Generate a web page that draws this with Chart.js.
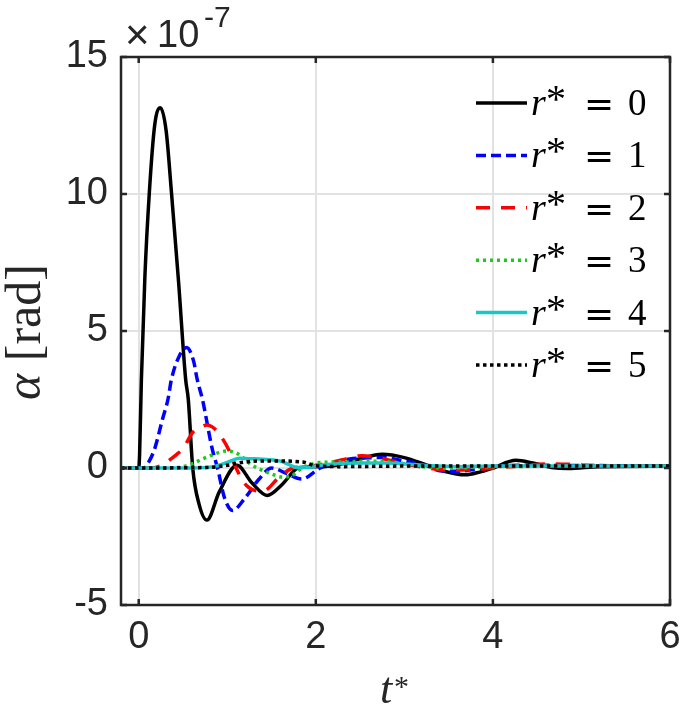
<!DOCTYPE html>
<html>
<head>
<meta charset="utf-8">
<script src="https://cdn.jsdelivr.net/npm/chart.js@4/dist/chart.umd.min.js"></script>
<style>
  html, body { margin: 0; padding: 0; background: #fff; }
  canvas { display: block; }
</style>
</head>
<body>
<canvas id="alphaChart" width="685" height="707"></canvas>
<script>
// values are in units of 1e-7 rad (axis multiplier shown at top left)
let labels = ['0', '1', '2', '3', '4', '5'];
let colors = ['#000000', '#0000ff', '#ff0000', '#1ec81e', '#1cc6c6', '#000000'];
let dashes = [[], [10, 5], [14, 11], [3, 4], [], [3.5, 3.5]];

let t0 = [-0.2, 0, 0.01, 0.03, 0.07, 0.12, 0.18, 0.245, 0.31, 0.37, 0.45, 0.53, 0.56, 0.61, 0.68, 0.77, 0.91, 1.11, 1.28, 1.45, 1.62, 1.8, 2.0, 2.2, 2.49, 2.75, 3.0, 3.24, 3.45, 3.69, 3.85, 4.0, 4.26, 4.45, 4.66, 4.85, 5.2, 6];
let a0 = [0, 0, 0.5, 3.2, 7.0, 10.05, 12.5, 13.15, 12.3, 10.05, 6.8, 3.24, 2.5, 0, -1.3, -1.9, -0.87, 0.1, -0.55, -1.0, -0.6, 0, 0.05, 0.08, 0.33, 0.5, 0.38, 0.12, -0.12, -0.25, -0.15, 0, 0.28, 0.18, 0.02, -0.02, 0.05, 0.07];

let t1 = [-0.2, 0.05, 0.1, 0.18, 0.27, 0.33, 0.37, 0.46, 0.54, 0.62, 0.66, 0.72, 0.83, 0.89, 0.97, 1.06, 1.2, 1.36, 1.5, 1.67, 1.84, 2.05, 2.38, 2.75, 3.0, 3.24, 3.4, 3.58, 3.8, 4.0, 4.3, 6];
let a1 = [0, 0, 0.15, 0.7, 1.8, 2.5, 3.24, 4.1, 4.4, 3.9, 3.24, 2.5, 0.7, 0, -1.1, -1.55, -1.1, -0.4, 0, -0.2, -0.4, 0, 0.33, 0.38, 0.25, 0.1, -0.1, -0.12, -0.05, 0.05, 0.1, 0.07];

let t2 = [-0.2, 0.15, 0.24, 0.33, 0.43, 0.5, 0.61, 0.71, 0.77, 0.83, 0.91, 1.03, 1.1, 1.22, 1.4, 1.59, 1.74, 1.9, 2.1, 2.3, 2.52, 2.75, 3.0, 3.17, 3.5, 3.8, 4.2, 4.7, 5.2, 6];
let a2 = [0, 0, 0.07, 0.25, 0.5, 0.7, 1.3, 1.5, 1.57, 1.5, 1.24, 0.58, 0, -0.65, -0.85, -0.33, 0, 0.05, 0.15, 0.3, 0.45, 0.35, 0.15, 0.05, -0.08, -0.05, 0.05, 0.15, 0.08, 0.07];

let t3 = [-0.2, 0.4, 0.5, 0.6, 0.72, 0.85, 0.99, 1.1, 1.17, 1.26, 1.36, 1.5, 1.62, 1.72, 1.8, 1.92, 2.04, 2.3, 2.6, 2.9, 3.2, 3.5, 4.0, 6];
let a3 = [0, 0, 0.05, 0.15, 0.33, 0.5, 0.62, 0.55, 0.4, 0.15, -0.03, -0.22, -0.33, -0.3, -0.1, 0.1, 0.2, 0.22, 0.25, 0.2, 0.05, 0, 0.05, 0.07];

let t4 = [-0.2, 0.6, 0.85, 1.0, 1.14, 1.25, 1.4, 1.6, 1.7, 1.78, 1.9, 2.1, 2.5, 2.8, 3.2, 3.6, 4.0, 6];
let a4 = [0, 0, 0.05, 0.2, 0.36, 0.34, 0.32, 0.25, 0.12, 0.02, 0.02, 0.12, 0.18, 0.18, 0.1, 0.05, 0.07, 0.07];

let t5 = [-0.2, 0.8, 1.0, 1.2, 1.5, 1.85, 2.0, 2.3, 3.0, 6];
let a5 = [0, 0.02, 0.1, 0.22, 0.26, 0.22, 0.08, 0.05, 0.07, 0.07];

let times = [t0, t1, t2, t3, t4, t5];
let alphas = [a0, a1, a2, a3, a4, a5];

let xTicks = [0, 2, 4, 6];
let yTicks = [-5, 0, 5, 10, 15];

let ink = '#262626';

let datasets = labels.map(function (lab, i) {
  return {
    label: 'r* = ' + lab,
    data: times[i].map(function (t, k) { return { x: t, y: alphas[i][k] }; }),
    borderColor: colors[i],
    borderWidth: 3.5,
    borderDash: dashes[i],
    borderCapStyle: 'butt',
    cubicInterpolationMode: 'monotone',
    pointRadius: 0,
    fill: false,
    order: 5 - i
  };
});

// box, inward ticks, legend, axis titles and multiplier
let decorations = {
  id: 'decorations',
  afterDraw: function (chart) {
    let ctx = chart.ctx;
    let area = chart.chartArea;
    let xs = chart.scales.x, ys = chart.scales.y;
    ctx.save();

    ctx.strokeStyle = ink;
    ctx.lineWidth = 2.5;
    ctx.strokeRect(area.left, area.top, area.right - area.left, area.bottom - area.top);
    ctx.beginPath();
    xTicks.forEach(function (v) {
      let px = xs.getPixelForValue(v);
      ctx.moveTo(px, area.bottom); ctx.lineTo(px, area.bottom - 6);
      ctx.moveTo(px, area.top); ctx.lineTo(px, area.top + 6);
    });
    yTicks.forEach(function (v) {
      let py = ys.getPixelForValue(v);
      ctx.moveTo(area.left, py); ctx.lineTo(area.left + 6, py);
      ctx.moveTo(area.right, py); ctx.lineTo(area.right - 6, py);
    });
    ctx.stroke();

    // legend
    chart.data.datasets.forEach(function (ds, i) {
      let y = 103 + 52.4 * i;
      ctx.beginPath();
      ctx.strokeStyle = ds.borderColor;
      ctx.lineWidth = ds.borderWidth;
      ctx.setLineDash(ds.borderDash);
      ctx.moveTo(476, y); ctx.lineTo(527, y);
      ctx.stroke();
      ctx.setLineDash([]);

      ctx.fillStyle = '#000';
      ctx.textBaseline = 'alphabetic';
      ctx.textAlign = 'left';
      ctx.font = 'italic 38px "Liberation Serif"';
      ctx.fillText('r', 531, y + 12);
      ctx.font = '40px "Liberation Serif"';
      ctx.fillText('*', 546, y + 9);
      ctx.font = '36px "DejaVu Sans"';
      ctx.fillText('=', 584, y + 13);
      ctx.font = '37px "Liberation Serif"';
      ctx.fillText(labels[i], 628, y + 12);
    });

    // y title
    ctx.save();
    ctx.translate(40, 400);
    ctx.rotate(-Math.PI / 2);
    ctx.fillStyle = ink;
    ctx.font = 'italic 50px "Liberation Serif"';
    ctx.fillText('α', 0, 0);
    let w = ctx.measureText('α').width;
    ctx.font = '50px "Liberation Serif"';
    ctx.fillText(' [rad]', w, 0);
    ctx.restore();

    // x title
    ctx.fillStyle = ink;
    ctx.font = 'italic 44px "Liberation Serif"';
    ctx.fillText('t', 380, 703);
    ctx.font = '30px "Liberation Serif"';
    ctx.fillText('*', 394, 696);

    // multiplier
    ctx.font = '42px "Liberation Sans"';
    ctx.fillText('×', 125, 49);
    ctx.font = '38px "Liberation Sans"';
    ctx.fillText('10', 157, 47);
    ctx.font = '30px "Liberation Sans"';
    ctx.fillText('-7', 204, 27);

    ctx.restore();
  }
};

new Chart(document.getElementById('alphaChart'), {
  type: 'line',
  data: { datasets: datasets },
  options: {
    responsive: false,
    animation: false,
    devicePixelRatio: 1,
    layout: { padding: { left: 0, top: 57, right: 15, bottom: 0 } },
    plugins: { legend: { display: false }, tooltip: { enabled: false } },
    scales: {
      x: {
        type: 'linear',
        min: -0.2,
        max: 6,
        afterBuildTicks: function (scale) { scale.ticks = xTicks.map(function (v) { return { value: v }; }); },
        afterFit: function (scale) {
          scale.height = 102;
          scale.paddingLeft = 0;
          scale.paddingRight = 0;
        },
        ticks: {
          color: ink,
          font: { family: 'Liberation Sans', size: 38 },
          padding: 10,
          maxRotation: 0,
          callback: function (v) { return String(v); }
        },
        grid: { color: '#e2e2e2', lineWidth: 2, drawTicks: false },
        border: { display: false }
      },
      y: {
        min: -5,
        max: 15,
        afterBuildTicks: function (scale) { scale.ticks = yTicks.map(function (v) { return { value: v }; }); },
        afterFit: function (scale) {
          scale.width = 121;
          scale.paddingTop = 0;
          scale.paddingBottom = 0;
        },
        ticks: {
          color: ink,
          font: { family: 'Liberation Sans', size: 38 },
          padding: 13,
          callback: function (v) { return String(v); }
        },
        grid: { color: '#e2e2e2', lineWidth: 2, drawTicks: false },
        border: { display: false }
      }
    }
  },
  plugins: [decorations]
});
</script>
</body>
</html>
